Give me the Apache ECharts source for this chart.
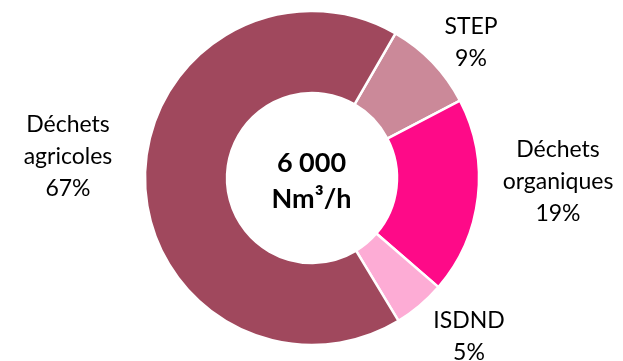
<!DOCTYPE html>
<html>
<head>
<meta charset="utf-8">
<script src="https://cdn.jsdelivr.net/npm/echarts@6/dist/echarts.min.js"></script>
<style>
  html, body { margin: 0; padding: 0; background: #ffffff; }
  #chart { width: 623px; height: 361px; }
</style>
</head>
<body>
<div id="chart"></div>
<script>
// Feedstock shares of biomethane production
const categories = ['STEP', 'Déchets organiques', 'ISDND', 'Déchets agricoles'];
const shares = [9, 19, 5, 67];
const colors = ['#CB8999', '#FE0A88', '#FDACD5', '#A0485D'];
const centerLines = ['6 000', 'Nm³/h'];

// pie geometry and label anchors (offsets from the pie centre)
const pieCenter = [312, 178];
const labelOffset = [[159, -135], [246, 4], [157, 159], [-244, -21]];

const chart = echarts.init(document.getElementById('chart'));
chart.setOption({
  animation: false,
  title: {
    text: centerLines.join('\n'),
    left: 'center',
    top: 140,
    textStyle: { fontFamily: 'Lato', fontWeight: 'bold', fontSize: 27, lineHeight: 36, color: '#000' }
  },
  series: [{
    type: 'pie',
    center: pieCenter,
    radius: [85, 167],
    startAngle: 60,
    clockwise: true,
    percentPrecision: 0,
    itemStyle: { borderColor: '#ffffff', borderWidth: 2.5 },
    label: {
      show: true,
      position: 'outside',
      formatter: p => p.name.replace(' ', '\n') + '\n' + p.percent + '%',
      fontFamily: 'Lato',
      fontSize: 23,
      lineHeight: 32,
      color: '#000',
      overflow: 'none',
      width: 200
    },
    labelLine: { show: false },
    labelLayout: p => ({
      x: pieCenter[0] + labelOffset[p.dataIndex][0],
      y: pieCenter[1] + labelOffset[p.dataIndex][1],
      align: 'center',
      verticalAlign: 'middle',
      moveOverlap: null
    }),
    data: categories.map((c, i) => ({ name: c, value: shares[i], itemStyle: { color: colors[i] } }))
  }]
});
</script>
</body>
</html>
